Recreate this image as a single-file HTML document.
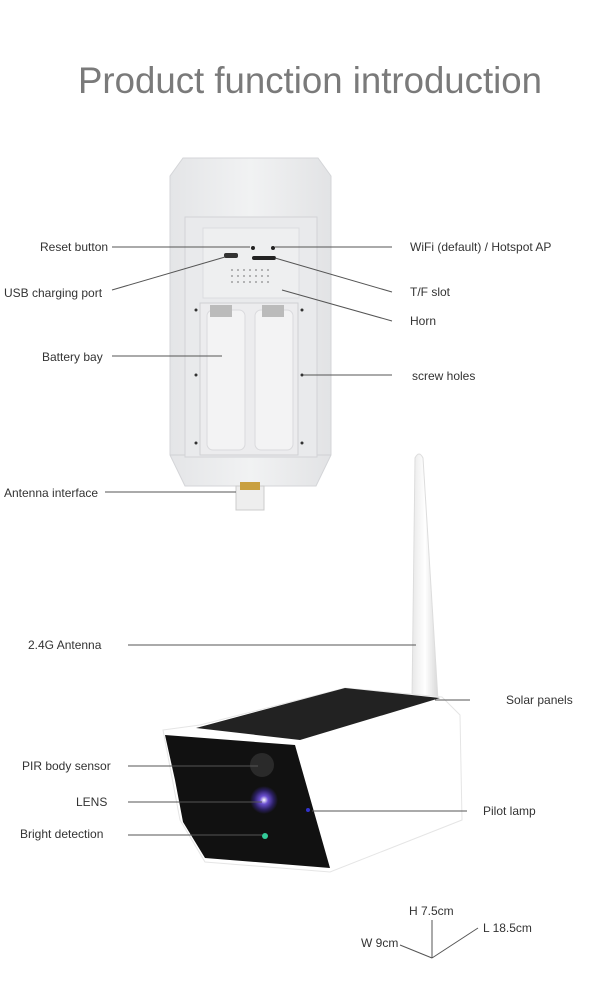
<!DOCTYPE html>
<html><head><style>
body{margin:0;background:#fff;width:610px;height:1000px;overflow:hidden;font-family:"Liberation Sans",sans-serif}
</style></head><body>
<svg width="610" height="1000" viewBox="0 0 610 1000" xmlns="http://www.w3.org/2000/svg" font-family="Liberation Sans, sans-serif">
<defs>
<linearGradient id="bd" x1="0" x2="1"><stop offset="0" stop-color="#e4e5e7"/><stop offset="0.5" stop-color="#f1f2f3"/><stop offset="1" stop-color="#e2e3e5"/></linearGradient>
<linearGradient id="ant" x1="0" x2="1"><stop offset="0" stop-color="#e8e8e8"/><stop offset="0.5" stop-color="#fff"/><stop offset="1" stop-color="#d8d8d8"/></linearGradient>
<radialGradient id="lens"><stop offset="0" stop-color="#fff"/><stop offset="0.3" stop-color="#6a4fd0"/><stop offset="0.7" stop-color="#2a1f60"/><stop offset="1" stop-color="#111"/></radialGradient>
</defs>
<text x="310" y="93" font-size="37" fill="#7a7a7a" text-anchor="middle" textLength="464" lengthAdjust="spacingAndGlyphs">Product function introduction</text>

<polygon points="183,158 318,158 331,176 331,455 316,486 185,486 170,455 170,176" fill="url(#bd)" stroke="#d4d5d8"/>
<line x1="170" y1="455" x2="331" y2="455" stroke="#d0d1d4"/>
<rect x="185" y="217" width="132" height="240" fill="#e9eaec" stroke="#d2d3d6"/>
<rect x="203" y="228" width="96" height="70" fill="#eeeff0" stroke="#dcdcdf"/>
<rect x="200" y="303" width="98" height="152" fill="#ececee" stroke="#cfd0d3"/>
<rect x="207" y="310" width="38" height="140" rx="6" fill="#f3f3f4" stroke="#dadadd"/>
<rect x="255" y="310" width="38" height="140" rx="6" fill="#f3f3f4" stroke="#dadadd"/>
<rect x="210" y="305" width="22" height="12" fill="#bbb"/><rect x="262" y="305" width="22" height="12" fill="#bbb"/>
<rect x="224" y="253" width="14" height="5" rx="2" fill="#333"/>
<rect x="252" y="256" width="24" height="4" rx="2" fill="#222"/>
<circle cx="253" cy="248" r="2" fill="#222"/><circle cx="273" cy="248" r="2" fill="#222"/>
<g fill="#888">
<circle cx="232" cy="270" r="0.9"/><circle cx="238" cy="270" r="0.9"/><circle cx="244" cy="270" r="0.9"/><circle cx="250" cy="270" r="0.9"/><circle cx="256" cy="270" r="0.9"/><circle cx="262" cy="270" r="0.9"/><circle cx="268" cy="270" r="0.9"/>
<circle cx="232" cy="276" r="0.9"/><circle cx="238" cy="276" r="0.9"/><circle cx="244" cy="276" r="0.9"/><circle cx="250" cy="276" r="0.9"/><circle cx="256" cy="276" r="0.9"/><circle cx="262" cy="276" r="0.9"/><circle cx="268" cy="276" r="0.9"/>
<circle cx="232" cy="282" r="0.9"/><circle cx="238" cy="282" r="0.9"/><circle cx="244" cy="282" r="0.9"/><circle cx="250" cy="282" r="0.9"/><circle cx="256" cy="282" r="0.9"/><circle cx="262" cy="282" r="0.9"/><circle cx="268" cy="282" r="0.9"/>
</g>
<g fill="#333"><circle cx="196" cy="310" r="1.5"/><circle cx="302" cy="310" r="1.5"/><circle cx="196" cy="375" r="1.5"/><circle cx="302" cy="375" r="1.5"/><circle cx="196" cy="443" r="1.5"/><circle cx="302" cy="443" r="1.5"/></g>
<rect x="236" y="486" width="28" height="24" fill="#eee" stroke="#ccc"/>
<rect x="240" y="482" width="20" height="8" fill="#c9a040"/>

<path d="M415,458 Q419,450 423,458 L438,700 L412,700 Z" fill="url(#ant)" stroke="#ddd"/>
<polygon points="163,730 200,725 345,688 442,697 460,715 462,820 330,872 205,862 180,820" fill="#fff" stroke="#e5e5e5"/>
<polygon points="196,728 345,688 440,698 300,740" fill="#222"/>
<polygon points="165,735 295,745 330,868 205,858 183,822 175,780" fill="#111"/>
<circle cx="262" cy="765" r="12" fill="#2a2a2a"/>
<circle cx="264" cy="800" r="14" fill="url(#lens)"/>
<circle cx="265" cy="836" r="3" fill="#3c9"/>
<circle cx="308" cy="810" r="2" fill="#33c"/>

<g stroke="#555" stroke-width="1" fill="none">
<line x1="112" y1="247" x2="250" y2="247"/>
<line x1="275" y1="247" x2="392" y2="247"/>
<line x1="112" y1="290" x2="225" y2="257"/>
<line x1="275" y1="258" x2="392" y2="292"/>
<line x1="282" y1="290" x2="392" y2="321"/>
<line x1="112" y1="356" x2="222" y2="356"/>
<line x1="303" y1="375" x2="392" y2="375"/>
<line x1="105" y1="492" x2="236" y2="492"/>
<line x1="128" y1="645" x2="416" y2="645"/>
<line x1="435" y1="700" x2="470" y2="700"/>
<line x1="128" y1="766" x2="258" y2="766"/>
<line x1="128" y1="802" x2="262" y2="802"/>
<line x1="128" y1="835" x2="262" y2="835"/>
<line x1="312" y1="811" x2="467" y2="811"/>
<line x1="432" y1="920" x2="432" y2="958"/>
<line x1="400" y1="945" x2="432" y2="958"/>
<line x1="432" y1="958" x2="478" y2="928"/>
</g>
<g font-size="12" fill="#333">
<text x="40" y="251">Reset button</text>
<text x="4" y="297">USB charging port</text>
<text x="42" y="361">Battery bay</text>
<text x="4" y="497">Antenna interface</text>
<text x="410" y="251">WiFi (default) / Hotspot AP</text>
<text x="410" y="296">T/F slot</text>
<text x="410" y="325">Horn</text>
<text x="412" y="380">screw holes</text>
<text x="28" y="649">2.4G Antenna</text>
<text x="506" y="704">Solar panels</text>
<text x="22" y="770">PIR body sensor</text>
<text x="76" y="806">LENS</text>
<text x="20" y="838">Bright detection</text>
<text x="483" y="815">Pilot lamp</text>
<text x="409" y="915">H 7.5cm</text>
<text x="483" y="932">L 18.5cm</text>
<text x="361" y="947">W  9cm</text>
</g>
</svg>
</body></html>
